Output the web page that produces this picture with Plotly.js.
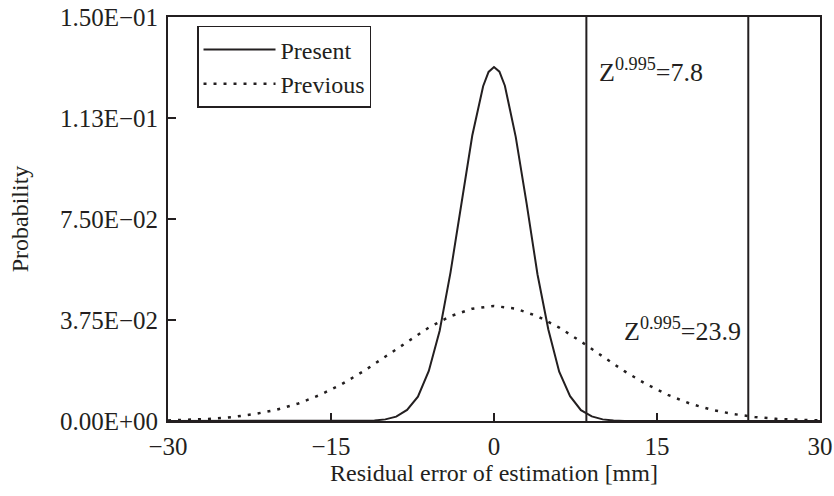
<!DOCTYPE html>
<html>
<head>
<meta charset="utf-8">
<script src="https://cdn.plot.ly/plotly-3.0.1.min.js"></script>
<style>html,body{margin:0;padding:0;background:#fff;}#chart{width:834px;height:496px;}</style>
</head>
<body>
<div id="chart"></div>
<script>
// Residual error (mm) and probability
var presentX = [-30, -12, -11, -10, -9, -8, -7, -6, -5, -4, -3, -2, -1, -0.5, 0, 0.5, 1, 2, 3, 4, 5, 6, 7, 8, 9, 10, 11, 12, 30];
var presentY = [0, 0, 0.0002, 0.0006, 0.0016, 0.0041, 0.0090, 0.0186, 0.0335, 0.0552, 0.0800, 0.1060, 0.1243, 0.1296, 0.1314, 0.1297, 0.1245, 0.1055, 0.0808, 0.0545, 0.0340, 0.0183, 0.0092, 0.0040, 0.0017, 0.0006, 0.0002, 0, 0];

var previousX = [-30, -28, -26, -24, -22, -20, -18, -16, -14, -12, -10, -8, -6, -4, -2, 0, 2, 4, 6, 8, 10, 12, 14, 16, 18, 20, 22, 24, 26, 28, 30];
var previousY = [0.0002, 0.0005, 0.0008, 0.0015, 0.0026, 0.0042, 0.0065, 0.0097, 0.0137, 0.0185, 0.0239, 0.0295, 0.0347, 0.0389, 0.0417, 0.0427, 0.0417, 0.0389, 0.0347, 0.0295, 0.0239, 0.0185, 0.0137, 0.0097, 0.0065, 0.0042, 0.0026, 0.0015, 0.0008, 0.0005, 0.0002];

// Z^0.995 limit lines (positions as drawn) and their labels
var limitX = [8.5, 23.4];
var limitLabels = ['Z<sup>0.995</sup>=7.8', 'Z<sup>0.995</sup>=23.9'];
var labelX = [9.5, 11.8];
var labelY = [0.1303, 0.0341];

var xTickVals = [-30, -15, 0, 15, 30];
var yTickVals = [0, 0.0375, 0.075, 0.1125, 0.15];
var yTickText = ['0.00E+00', '3.75E\u221202', '7.50E\u221202', '1.13E\u221201', '1.50E\u221201'];

var ink = '#231f20';
var serif = '"Liberation Serif", "Times New Roman", Times, serif';

var traces = [
  {x: presentX, y: presentY, mode: 'lines', name: 'Present',
   line: {color: ink, width: 2}},
  {x: previousX, y: previousY, mode: 'lines', name: 'Previous',
   line: {color: ink, width: 2.5, dash: '3px,7px'}}
];
limitX.forEach(function (v) {
  traces.push({x: [v, v], y: [yTickVals[0], yTickVals[yTickVals.length - 1]], mode: 'lines',
    showlegend: false, hoverinfo: 'skip', line: {color: ink, width: 2}});
});

var annotations = limitLabels.map(function (t, i) {
  return {x: labelX[i], y: labelY[i], xref: 'x', yref: 'y', text: t, showarrow: false,
    xanchor: 'left', yanchor: 'middle', font: {family: serif, size: 26, color: ink}};
});

var layout = {
  width: 834, height: 496,
  margin: {l: 168, r: 14, t: 17, b: 75, pad: 0},
  paper_bgcolor: '#fff', plot_bgcolor: '#fff',
  font: {family: serif, color: ink, size: 25},
  showlegend: true,
  legend: {x: 0.0445, y: 0.978, xanchor: 'left', yanchor: 'top', bgcolor: '#fff',
    bordercolor: ink, borderwidth: 1.5, font: {family: serif, size: 24, color: ink},
    itemwidth: 72, traceorder: 'normal', tracegroupgap: 0},
  xaxis: {range: [-30, 30], tickvals: xTickVals, ticks: 'inside', ticklen: 8, tickwidth: 1.5,
    tickcolor: ink, showline: true, mirror: true, linecolor: ink, linewidth: 2,
    showgrid: false, zeroline: false, tickfont: {family: serif, size: 25, color: ink},
    ticklabelstandoff: 2,
    title: {text: 'Residual error of estimation [mm]', font: {family: serif, size: 24, color: ink}, standoff: 3}},
  yaxis: {range: [0, 0.15], tickvals: yTickVals, ticktext: yTickText, ticks: 'inside', ticklen: 8,
    tickwidth: 1.5, tickcolor: ink, showline: true, mirror: true, linecolor: ink, linewidth: 2,
    showgrid: false, zeroline: false, tickfont: {family: serif, size: 25, color: ink},
    ticklabelstandoff: 3,
    title: {text: 'Probability', font: {family: serif, size: 24, color: ink}, standoff: 24}},
  annotations: annotations
};

Plotly.newPlot('chart', traces, layout, {displayModeBar: false, staticPlot: true});
</script>
</body>
</html>
